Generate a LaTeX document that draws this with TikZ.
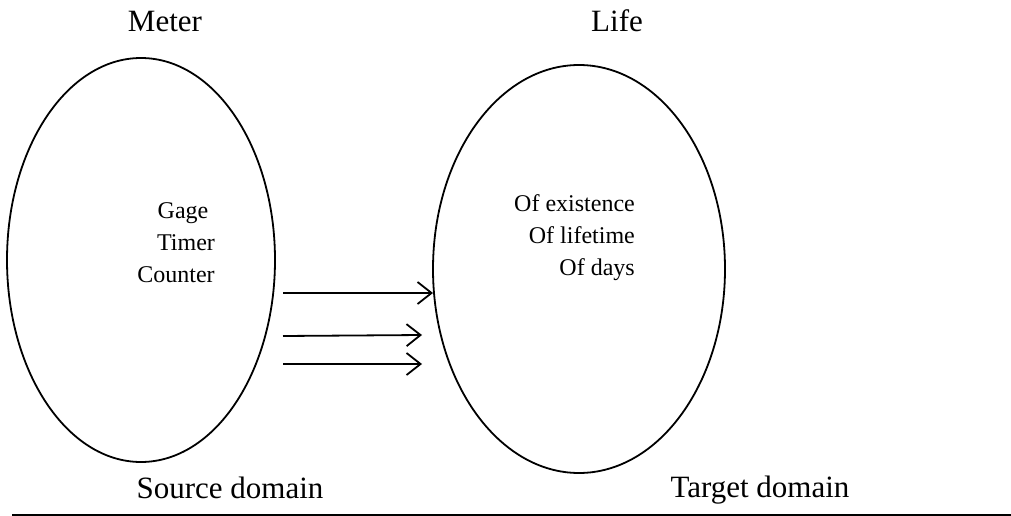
\documentclass[tikz,border=0pt]{standalone}
\usepackage{fontspec}
\setmainfont{Liberation Serif}
\usetikzlibrary{shapes.geometric,arrows.meta}
\begin{document}
\begin{tikzpicture}[x=1pt,y=-1pt,
  domainbox/.style={draw, ellipse, line width=1.8pt, inner sep=0pt},
  titletext/.style={font=\fontsize{31}{36}\selectfont, anchor=base, inner sep=0pt},
  itemtext/.style={font=\fontsize{24}{28}\selectfont, anchor=base, inner sep=0pt},
  itemrtext/.style={font=\fontsize{24}{28}\selectfont, anchor=base east, inner sep=0pt},
  maparrow/.style={line width=1.8pt, -{Straight Barb[length=14pt,width=22pt,line width=1.8pt]}}]
\useasboundingbox (0,0) rectangle (1011,516);
\node[domainbox, minimum width=268pt, minimum height=404pt] (src) at (141,260) {};
\node[domainbox, minimum width=292pt, minimum height=408pt] (tgt) at (579,269) {};
\node[titletext] (meter) at (165,32) {Meter};
\node[titletext] (life) at (617,32) {Life};
\node[itemtext] (gage) at (183,218) {Gage};
\node[itemtext] (timer) at (186,250) {Timer};
\node[itemtext] (counter) at (176,282) {Counter};
\node[itemrtext] (exist) at (635,211) {Of existence};
\node[itemrtext] (lifetime) at (635,243) {Of lifetime};
\node[itemrtext] (days) at (635,275) {Of days};
\node[titletext] (source) at (230,498) {Source domain};
\node[titletext] (target) at (760,497) {Target domain};
\coordinate (a1s) at (283,293); \coordinate (a1e) at (433,293);
\coordinate (a2s) at (283,336); \coordinate (a2e) at (422,335);
\coordinate (a3s) at (283,364); \coordinate (a3e) at (422,364);
\draw[maparrow] (a1s) -- (a1e);
\draw[maparrow] (a2s) -- (a2e);
\draw[maparrow] (a3s) -- (a3e);
\coordinate (l1) at (12,515); \coordinate (l2) at (1011,515);
\draw[line width=2pt] (l1) -- (l2);
\end{tikzpicture}
\end{document}
